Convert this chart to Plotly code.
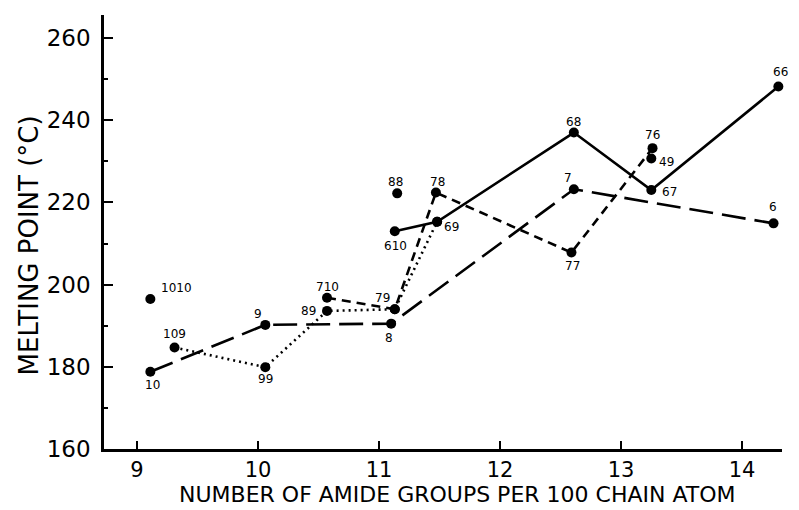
import plotly.graph_objects as go

# ---- data ----
solid_labels = ["610", "69", "68", "67", "66"]
solid_x = [11.13, 11.48, 12.61, 13.25, 14.30]
solid_y = [213.0, 215.3, 237.0, 223.0, 248.2]

longdash_labels = ["10", "9", "8", "7", "6"]
longdash_x = [9.11, 10.06, 11.10, 12.61, 14.26]
longdash_y = [178.8, 190.2, 190.5, 223.2, 214.9]

shortdash_labels = ["710", "79", "78", "77", "76"]
shortdash_x = [10.57, 11.13, 11.47, 12.59, 13.26]
shortdash_y = [196.8, 194.0, 222.4, 207.8, 233.2]

dotted_labels = ["109", "99", "89", "79", "69"]
dotted_x = [9.31, 10.06, 10.57, 11.13, 11.48]
dotted_y = [184.7, 179.9, 193.6, 194.0, 215.3]

single_labels = ["1010", "88", "49"]
single_x = [9.11, 11.15, 13.25]
single_y = [196.5, 222.2, 230.7]

x_ticks = [9, 10, 11, 12, 13, 14]
y_ticks = [160, 180, 200, 220, 240, 260]

# ---- label placement (pixel offsets, style only) ----
label_offsets = {
    "1010": (26, -11), "109": (0, -13), "10": (2, 13), "9": (-7, -11),
    "99": (0, 12), "89": (-19, 0), "710": (0, -11), "79": (-12, -11),
    "88": (-2, -11), "78": (2, -11), "610": (1, 15), "69": (14, 5),
    "8": (-2, 14), "68": (0, -11), "76": (0, -13), "49": (15, 4),
    "67": (18, 2), "7": (-6, -11), "77": (1, 13), "6": (-1, -16),
    "66": (2, -15),
}

FONT = "DejaVu Sans"
fig = go.Figure()

series = [
    (solid_x, solid_y, "solid", 2.6),
    (longdash_x, longdash_y, "24px,9px", 2.6),
    (shortdash_x, shortdash_y, "9px,6px", 2.6),
    (dotted_x, dotted_y, "2px,4px", 2.6),
]
for xs, ys, dash, w in series:
    fig.add_trace(go.Scatter(
        x=xs, y=ys, mode="lines+markers",
        line=dict(color="black", width=w, dash=dash),
        marker=dict(color="black", size=10),
        cliponaxis=False, showlegend=False, hoverinfo="skip"))

fig.add_trace(go.Scatter(
    x=single_x, y=single_y, mode="markers",
    marker=dict(color="black", size=10),
    cliponaxis=False, showlegend=False, hoverinfo="skip"))

# data labels
seen = set()
for labs, xs, ys in [(solid_labels, solid_x, solid_y),
                     (longdash_labels, longdash_x, longdash_y),
                     (shortdash_labels, shortdash_x, shortdash_y),
                     (dotted_labels, dotted_x, dotted_y),
                     (single_labels, single_x, single_y)]:
    for lab, xv, yv in zip(labs, xs, ys):
        if lab in seen:
            continue
        seen.add(lab)
        dx, dy = label_offsets[lab]
        fig.add_annotation(x=xv, y=yv, text=lab, showarrow=False,
                           xshift=dx, yshift=-dy,
                           font=dict(family=FONT, size=12, color="black"))

# axis titles
fig.add_annotation(xref="paper", yref="paper", x=0.522, y=-0.1048,
                   text="NUMBER OF AMIDE GROUPS PER 100 CHAIN ATOM",
                   showarrow=False, xanchor="center", yanchor="middle",
                   font=dict(family=FONT, size=22, color="black"))
fig.add_annotation(xref="paper", yref="paper", x=-0.11, y=0.47,
                   text="MELTING POINT (°C)", textangle=-90,
                   showarrow=False, xanchor="center", yanchor="middle",
                   font=dict(family=FONT, size=26, color="black"))

fig.update_xaxes(range=[8.727, 14.33], tickvals=x_ticks,
                 ticktext=[str(t) for t in x_ticks],
                 ticks="inside", ticklen=8, tickwidth=2, tickcolor="black",
                 ticklabelstandoff=0,
                 showline=True, linecolor="black", linewidth=2.5,
                 showgrid=False, zeroline=False,
                 tickfont=dict(family=FONT, size=21, color="black"))
fig.update_yaxes(range=[160, 265.6], tickvals=y_ticks,
                 ticktext=[str(t) for t in y_ticks],
                 ticks="inside", ticklen=9, tickwidth=2, tickcolor="black",
                 ticklabelstandoff=6,
                 minor=dict(dtick=10, tick0=160, ticks="inside", ticklen=4,
                            tickwidth=2, tickcolor="black", showgrid=False),
                 showline=True, linecolor="black", linewidth=2.5,
                 showgrid=False, zeroline=False,
                 tickfont=dict(family=FONT, size=23, color="black"))

fig.update_layout(width=799, height=510,
                  margin=dict(l=104, r=17, t=15, b=61),
                  paper_bgcolor="white", plot_bgcolor="white")

fig.write_html("out.html")
